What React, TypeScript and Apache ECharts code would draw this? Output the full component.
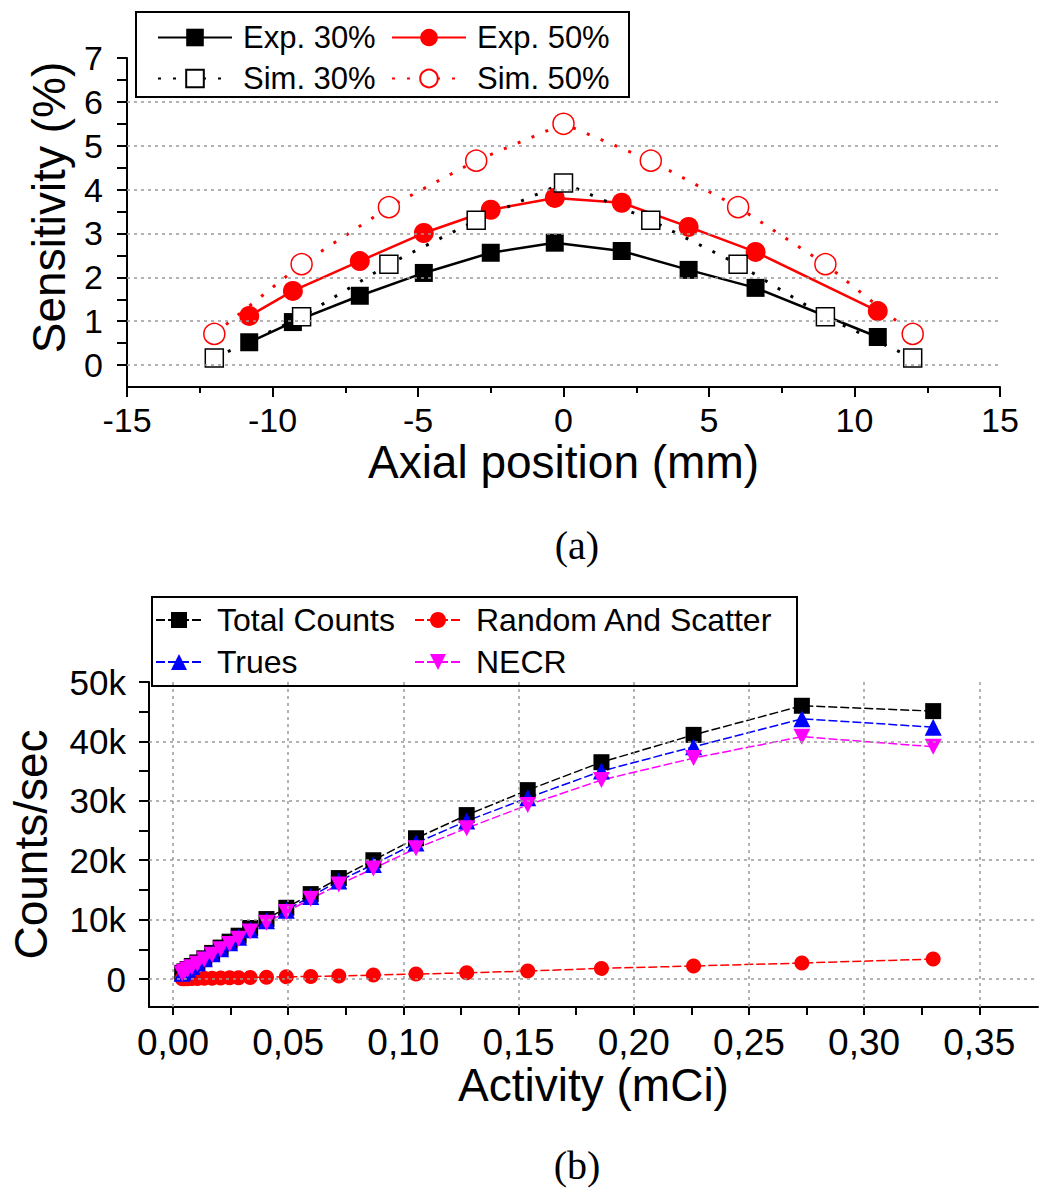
import React, { useEffect, useRef } from 'react';
import * as echarts from 'echarts';

// ---------- Chart (a): sensitivity profile ----------
const axialPosExp = [-10.8, -9.3, -7.0, -4.8, -2.5, -0.3, 2.0, 4.3, 6.6, 10.8];
const exp30 = [0.52, 0.98, 1.58, 2.1, 2.56, 2.79, 2.6, 2.17, 1.76, 0.64];
const exp50 = [1.12, 1.69, 2.37, 3.01, 3.54, 3.81, 3.7, 3.15, 2.58, 1.23];
const axialPosSim = [-12, -9, -6, -3, 0, 3, 6, 9, 12];
const sim30 = [0.16, 1.1, 2.3, 3.3, 4.15, 3.3, 2.3, 1.1, 0.16];
const sim50 = [0.71, 2.3, 3.6, 4.66, 5.5, 4.66, 3.6, 2.3, 0.71];
const yLabelsA = [0, 1, 2, 3, 4, 5, 6, 7];
const yTicksA = [0, 0.5, 1, 1.5, 2, 2.5, 3, 3.5, 4, 4.5, 5, 5.5, 6, 6.5, 7];
const gridLinesA = [0, 1, 2, 3, 4, 5, 6];

// ---------- Chart (b): count rates ----------
const activity = [0.33, 0.273, 0.226, 0.186, 0.154, 0.1275, 0.1055, 0.087, 0.072, 0.0598, 0.0492, 0.0406, 0.0335, 0.0285, 0.0246, 0.0207, 0.017, 0.0136, 0.0106, 0.0082, 0.0064, 0.005, 0.004];
const totalCounts = [45100, 46000, 41100, 36500, 31800, 27600, 23700, 20000, 17000, 14300, 12000, 10100, 8600, 7300, 6300, 5300, 4400, 3500, 2800, 2200, 1700, 1300, 1050];
const randomScatter = [3370, 2700, 2200, 1800, 1350, 1050, 850, 670, 520, 450, 380, 320, 280, 240, 210, 180, 150, 120, 100, 80, 70, 50, 40];
const trues = [42400, 43800, 39100, 35000, 30500, 26600, 22900, 19300, 16500, 13900, 11600, 9800, 8300, 7050, 6100, 5100, 4250, 3400, 2700, 2100, 1650, 1250, 1000];
const necr = [39100, 40800, 37200, 33500, 29300, 25400, 22000, 18600, 15900, 13500, 11300, 9500, 8000, 6800, 5900, 5000, 4100, 3300, 2600, 2000, 1600, 1200, 950];
const xLabelsB = [0, 0.05, 0.1, 0.15, 0.2, 0.25, 0.3, 0.35];
const xTicksB = [0, 0.025, 0.05, 0.075, 0.1, 0.125, 0.15, 0.175, 0.2, 0.225, 0.25, 0.275, 0.3, 0.325, 0.35];
const yLabelsB = [0, 10000, 20000, 30000, 40000, 50000];
const yTicksB = [0, 5000, 10000, 15000, 20000, 25000, 30000, 35000, 40000, 45000, 50000];
const gridHB = [0, 10000, 20000, 30000, 40000];
const gridVB = [0, 0.05, 0.1, 0.15, 0.2, 0.25, 0.3, 0.35];

const FONT = '"Liberation Sans", Arial, sans-serif';
const GRID_LINE = { color: '#9a9a9a', type: [3, 4] as any, width: 1.5 };
const DOWN_TRI = 'path://M0,0 L10,0 L5,9 Z';

function App() {
  const ref = useRef<HTMLDivElement>(null);
  useEffect(() => {
    document.body.style.margin = '0';
    const chart = echarts.init(ref.current!, null, { renderer: 'svg' });
    const axisLine = { show: true, onZero: false, lineStyle: { color: '#000', width: 2 } };
    const mk = (data: any[]) => ({
      silent: true,
      symbol: ['none', 'none'],
      label: { show: false },
      lineStyle: GRID_LINE,
      emphasis: { disabled: true },
      data,
    });
    const option: any = {
      animation: false,
      textStyle: { fontFamily: FONT, color: '#000' },
      grid: [
        { left: 127, right: 43, top: 58, bottom: 813, containLabel: false },
        { left: 145, right: 5, top: 682, bottom: 193, containLabel: false },
      ],
      xAxis: [
        {
          gridIndex: 0, type: 'value', min: -15, max: 15, interval: 5,
          axisLine, splitLine: { show: false },
          axisTick: { length: 10, lineStyle: { color: '#000', width: 2 } },
          minorTick: { show: true, splitNumber: 2, length: 6, lineStyle: { color: '#000', width: 2 } },
          axisLabel: { fontSize: 34, color: '#000', margin: 16, fontFamily: FONT },
          name: 'Axial position (mm)', nameLocation: 'middle', nameGap: 52,
          nameTextStyle: { fontSize: 46, color: '#000', fontFamily: FONT },
        },
        {
          gridIndex: 1, type: 'value', min: -0.0104, max: 0.3755,
          axisLine, splitLine: { show: false },
          axisTick: { length: 8, customValues: xTicksB, lineStyle: { color: '#000', width: 2 } },
          axisLabel: {
            customValues: xLabelsB, fontSize: 37, color: '#000', margin: 17, fontFamily: FONT,
            formatter: (v: number) => v.toFixed(2).replace('.', ','),
          },
          name: 'Activity (mCi)', nameLocation: 'middle', nameGap: 52,
          nameTextStyle: { fontSize: 46, color: '#000', fontFamily: FONT },
        },
      ],
      yAxis: [
        {
          gridIndex: 0, type: 'value', min: -0.5, max: 7,
          axisLine, splitLine: { show: false },
          axisTick: { length: 10, customValues: yTicksA, lineStyle: { color: '#000', width: 2 } },
          axisLabel: { customValues: yLabelsA, fontSize: 34, color: '#000', margin: 24, fontFamily: FONT },
          name: 'Sensitivity (%)', nameLocation: 'middle', nameGap: 55,
          nameTextStyle: { fontSize: 46, color: '#000', fontFamily: FONT, padding: [0, 0, 0, 30] },
        },
        {
          gridIndex: 1, type: 'value', min: -4700, max: 50000,
          axisLine, splitLine: { show: false },
          axisTick: { length: 10, customValues: yTicksB, lineStyle: { color: '#000', width: 2 } },
          axisLabel: {
            customValues: yLabelsB, fontSize: 35, color: '#000', margin: 23, fontFamily: FONT,
            formatter: (v: number) => (v === 0 ? '0' : v / 1000 + 'k'),
          },
          name: 'Counts/sec', nameLocation: 'middle', nameGap: 95,
          nameTextStyle: { fontSize: 46, color: '#000', fontFamily: FONT },
        },
      ],
      legend: [
        {
          left: 157, top: 22, orient: 'vertical', padding: 0, z: 10, selectedMode: false,
          data: ['Exp. 30%', 'Sim. 30%'], itemWidth: 74, itemHeight: 22, itemGap: 10,
          textStyle: { fontSize: 31, color: '#000', fontFamily: FONT, padding: [0, 0, 0, 6] },
        },
        {
          left: 391, top: 22, orient: 'vertical', padding: 0, z: 10, selectedMode: false,
          data: ['Exp. 50%', 'Sim. 50%'], itemWidth: 74, itemHeight: 22, itemGap: 10,
          textStyle: { fontSize: 31, color: '#000', fontFamily: FONT, padding: [0, 0, 0, 6] },
        },
        {
          left: 155, top: 604, orient: 'vertical', padding: 0, z: 10, selectedMode: false,
          data: ['Total Counts', 'Trues'], itemWidth: 46, itemHeight: 20, itemGap: 10,
          textStyle: { fontSize: 32, color: '#000', fontFamily: FONT, padding: [0, 0, 0, 10] },
        },
        {
          left: 414, top: 604, orient: 'vertical', padding: 0, z: 10, selectedMode: false,
          data: ['Random And Scatter', 'NECR'], itemWidth: 46, itemHeight: 20, itemGap: 10,
          textStyle: { fontSize: 32, color: '#000', fontFamily: FONT, padding: [0, 0, 0, 10] },
        },
      ],
      graphic: [
        { type: 'rect', z: 3, shape: { x: 136, y: 12, width: 493, height: 85 }, style: { fill: '#fff', stroke: '#000', lineWidth: 2 } },
        { type: 'rect', z: 3, shape: { x: 152, y: 597, width: 645, height: 89 }, style: { fill: '#fff', stroke: '#000', lineWidth: 2 } },
        { type: 'text', x: 577, y: 545, style: { text: '(a)', fontSize: 40, fontFamily: '"Liberation Serif", "Times New Roman", serif', fill: '#000', align: 'center', verticalAlign: 'middle' } },
        { type: 'text', x: 577, y: 1165, style: { text: '(b)', fontSize: 40, fontFamily: '"Liberation Serif", "Times New Roman", serif', fill: '#000', align: 'center', verticalAlign: 'middle' } },
      ],
      series: [
        {
          name: 'Exp. 30%', type: 'line', xAxisIndex: 0, yAxisIndex: 0,
          data: axialPosExp.map((x, i) => [x, exp30[i]]),
          symbol: 'rect', symbolSize: 18,
          lineStyle: { color: '#000', width: 2.5 }, itemStyle: { color: '#000' },
          markLine: mk(gridLinesA.map((v) => ({ yAxis: v }))),
        },
        {
          name: 'Exp. 50%', type: 'line', xAxisIndex: 0, yAxisIndex: 0,
          data: axialPosExp.map((x, i) => [x, exp50[i]]),
          symbol: 'circle', symbolSize: 20,
          lineStyle: { color: '#ff0000', width: 2.5 }, itemStyle: { color: '#ff0000' },
        },
        {
          name: 'Sim. 30%', type: 'line', xAxisIndex: 0, yAxisIndex: 0,
          data: axialPosSim.map((x, i) => [x, sim30[i]]),
          symbol: 'rect', symbolSize: 18,
          lineStyle: { color: '#000', width: 3, type: [3, 12] },
          itemStyle: { color: '#fff', borderColor: '#000', borderWidth: 1.5 },
        },
        {
          name: 'Sim. 50%', type: 'line', xAxisIndex: 0, yAxisIndex: 0,
          data: axialPosSim.map((x, i) => [x, sim50[i]]),
          symbol: 'circle', symbolSize: 21,
          lineStyle: { color: '#ff0000', width: 3, type: [3, 12] },
          itemStyle: { color: '#fff', borderColor: '#ff0000', borderWidth: 1.5 },
        },
        {
          name: 'Total Counts', type: 'line', xAxisIndex: 1, yAxisIndex: 1,
          data: activity.map((x, i) => [x, totalCounts[i]]),
          symbol: 'rect', symbolSize: 16,
          lineStyle: { color: '#000', width: 1.5, type: [9, 3] }, itemStyle: { color: '#000' },
          markLine: mk([...gridHB.map((v) => ({ yAxis: v })), ...gridVB.map((v) => ({ xAxis: v }))]),
        },
        {
          name: 'Random And Scatter', type: 'line', xAxisIndex: 1, yAxisIndex: 1,
          data: activity.map((x, i) => [x, randomScatter[i]]),
          symbol: 'circle', symbolSize: 15,
          lineStyle: { color: '#ff0000', width: 1.5, type: [9, 3] }, itemStyle: { color: '#ff0000' },
        },
        {
          name: 'Trues', type: 'line', xAxisIndex: 1, yAxisIndex: 1,
          data: activity.map((x, i) => [x, trues[i]]),
          symbol: 'triangle', symbolSize: 17,
          lineStyle: { color: '#0000ff', width: 1.5, type: [9, 3] }, itemStyle: { color: '#0000ff' },
        },
        {
          name: 'NECR', type: 'line', xAxisIndex: 1, yAxisIndex: 1,
          data: activity.map((x, i) => [x, necr[i]]),
          symbol: DOWN_TRI, symbolSize: [17, 16],
          lineStyle: { color: '#ff00ff', width: 1.5, type: [9, 3] }, itemStyle: { color: '#ff00ff' },
        },
      ],
    };
    chart.setOption(option);
    return () => chart.dispose();
  }, []);
  return <div ref={ref} style={{ position: 'absolute', left: 0, top: 0, width: 1043, height: 1200, background: '#fff' }} />;
}

export default App;
